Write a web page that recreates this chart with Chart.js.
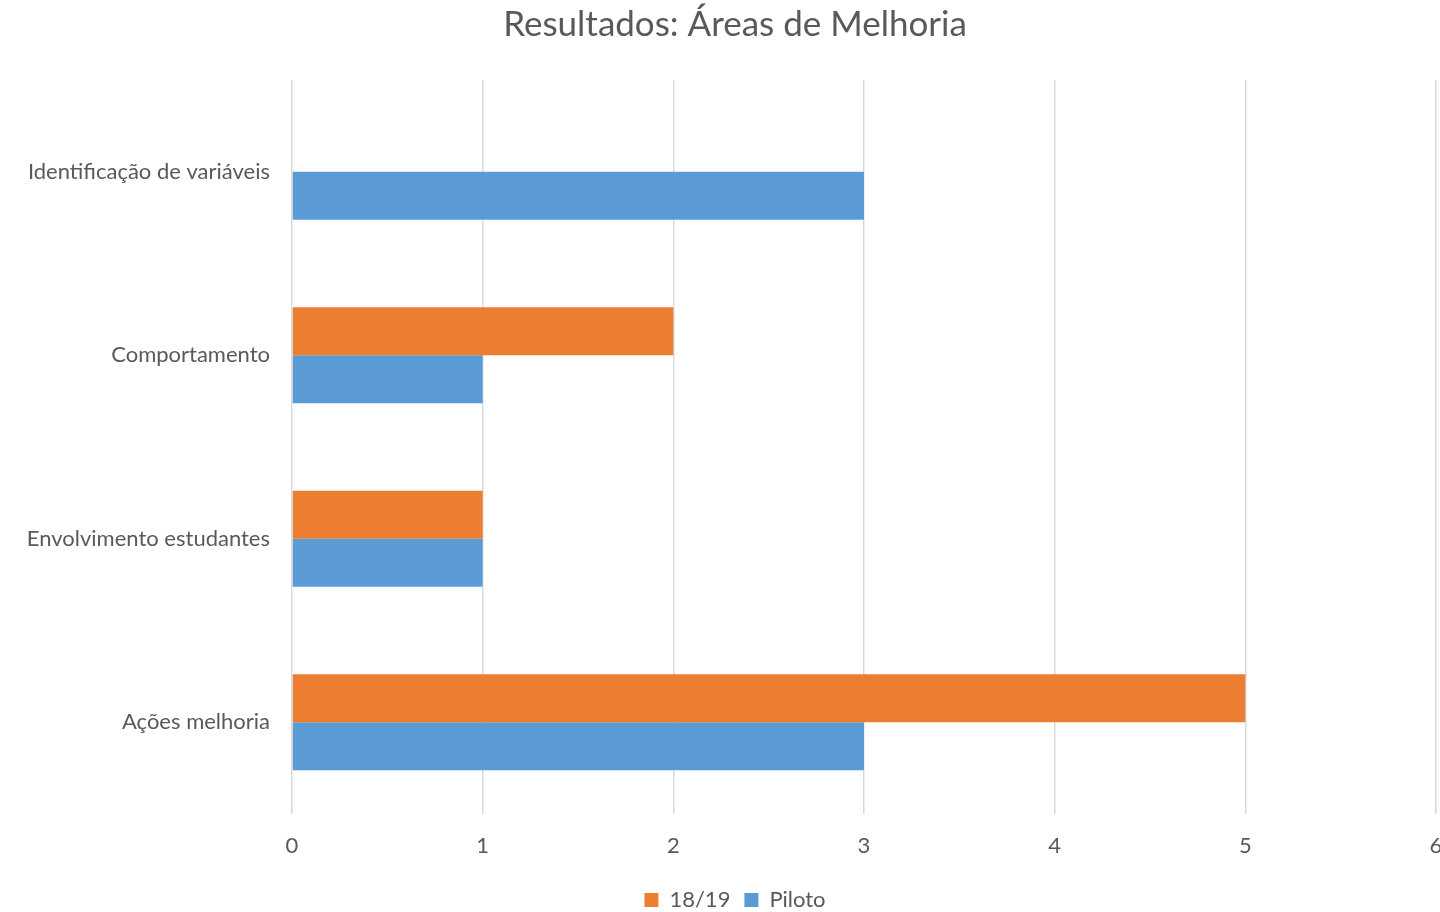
<!DOCTYPE html>
<html>
<head>
<meta charset="utf-8">
<script src="https://cdn.jsdelivr.net/npm/chart.js@4"></script>
<style>
  html, body { margin: 0; padding: 0; background: #fff; overflow: hidden; }
  #wrap { width: 1440px; height: 912px; }
</style>
</head>
<body>
<div id="wrap"><canvas id="areasMelhoria"></canvas></div>
<script>
const categorias = ['Identificação de variáveis', 'Comportamento', 'Envolvimento estudantes', 'Ações melhoria'];
const valores_1819 = [0, 2, 1, 5];
const valores_piloto = [3, 1, 1, 3];
const ticks_x = [0, 1, 2, 3, 4, 5, 6];

const txtColor = '#595959';
const fonte = 'Lato, Carlito, Calibri, sans-serif';

// labels of the y axis run into the left padding, so widen their clip box
const soltarRotulos = {
  id: 'soltarRotulos',
  afterLayout(chart) {
    chart.scales.y.left = 0;
  }
};

new Chart("areasMelhoria", {
  type: 'bar',
  data: {
    labels: categorias,
    datasets: [{
      label: '18/19',
      data: valores_1819,
      backgroundColor: '#ED7D31',
      barPercentage: 1,
      categoryPercentage: 0.523
    }, {
      label: 'Piloto',
      data: valores_piloto,
      backgroundColor: '#5B9BD5',
      barPercentage: 1,
      categoryPercentage: 0.523
    }]
  },
  plugins: [soltarRotulos],
  options: {
    indexAxis: 'y',
    responsive: true,
    maintainAspectRatio: false,
    animation: false,
    layout: { padding: { left: 34, right: 4, top: 0, bottom: -9 } },
    plugins: {
      title: {
        display: true,
        text: 'Resultados: Áreas de Melhoria',
        color: txtColor,
        font: { family: fonte, size: 35, weight: 'normal' },
        padding: { top: 4, bottom: 34 }
      },
      legend: {
        position: 'bottom',
        labels: {
          color: txtColor,
          font: { family: fonte, size: 22 },
          boxWidth: 14,
          boxHeight: 14,
          padding: 14
        }
      },
      tooltip: { enabled: false }
    },
    scales: {
      x: {
        min: 0,
        max: 6,
        afterBuildTicks: function(axis) {
          axis.ticks = ticks_x.map(v => ({ value: v }));
        },
        afterFit: function(scale) {
          scale.height = 61;
          scale.paddingRight = 0;
        },
        ticks: {
          color: txtColor,
          font: { family: fonte, size: 22 },
          padding: 19
        },
        grid: { color: '#D9D9D9', lineWidth: 1.5, drawTicks: false },
        border: { display: false }
      },
      y: {
        afterFit: function(scale) { scale.width = 258; },
        ticks: {
          color: txtColor,
          font: { family: fonte, size: 22 },
          padding: 22
        },
        grid: { display: false, drawTicks: false },
        border: { display: false }
      }
    }
  }
});
</script>
</body>
</html>
